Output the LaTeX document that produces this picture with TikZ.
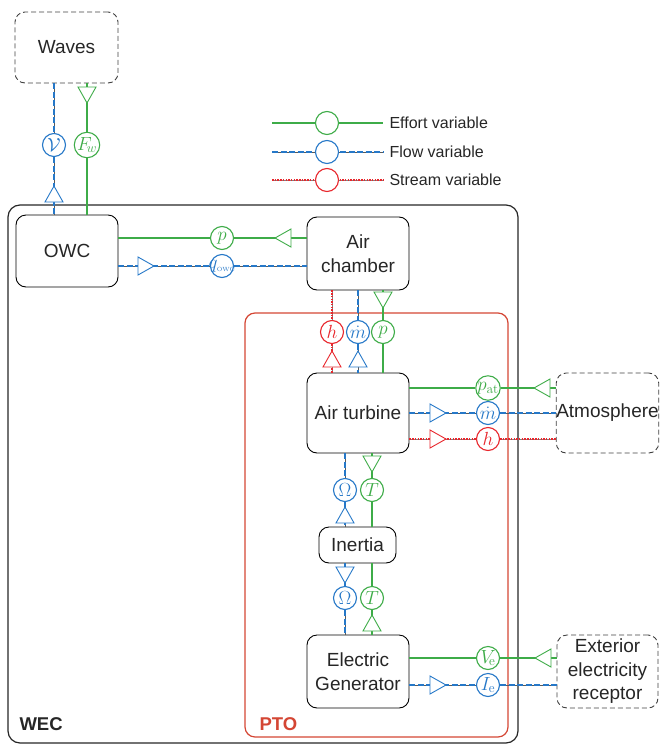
\RequirePackage{fix-cm}
\documentclass[tikz,border=0pt]{standalone}
\usepackage[no-math]{fontspec}
\setmainfont{Liberation Sans}
\usetikzlibrary{calc}

\definecolor{effortc}{RGB}{62,172,72}
\definecolor{flowc}{RGB}{38,120,200}
\definecolor{streamc}{RGB}{232,38,44}
\definecolor{ptored}{RGB}{212,70,52}

\tikzset{
	box/.style={draw, rounded corners=10pt, line width=0.9pt, align=center, inner sep=0pt, text=black!85, font=\fontsize{19}{23.5}\selectfont},
	outer/.style={box, dash pattern=on 5pt off 3pt, draw=black!75},
	var/.style={circle, fill=white, line width=1.1pt, minimum size=23pt, inner sep=0pt, font=\fontsize{19}{19}\selectfont},
	evar/.style={var, draw=effortc, text=effortc},
	fvar/.style={var, draw=flowc, text=flowc},
	svar/.style={var, draw=streamc, text=streamc},
	effort/.style={draw=effortc, line width=1.5pt},
	flowl/.style={draw=flowc, line width=1.5pt, dash pattern=on 6pt off 2.5pt, preaction={draw=black!65, line width=0.9pt, solid}},
	streaml/.style={draw=streamc, line width=1.5pt, dash pattern=on 1.5pt off 1.2pt, preaction={draw=black!50, line width=1pt, solid}},
	causal/.pic={\draw[fill=white, line width=0.9pt, line join=miter] (8,0) -- (-8,9) -- (-8,-9) -- cycle;},
}
\newcommand{\tinysub}[1]{\mbox{\fontsize{6}{6}\selectfont$\mathrm{#1}$}}

\begin{document}
\begin{tikzpicture}[x=1pt, y=-1pt]
	\useasboundingbox (0,0) rectangle (659,744);

	%frames
	\draw[rounded corners=12pt, line width=1.2pt, black!85] (8,205) rectangle (518,743);
	\draw[rounded corners=10pt, line width=1.2pt, ptored] (245,313) rectangle (508,737);
	\node[anchor=base west, text=black!85, font=\bfseries\fontsize{18.5}{20}\selectfont] (weclbl) at (16,730) {WEC};
	\node[anchor=base west, text=ptored, font=\bfseries\fontsize{18.5}{20}\selectfont] (ptolbl) at (256,730) {PTO};

	%blocks
	\node[outer, minimum width=103pt, minimum height=71pt] (waves) at (66.5,47.5) {Waves};
	\node[box, minimum width=102pt, minimum height=72pt] (owc) at (67,251) {OWC};
	\node[box, minimum width=102pt, minimum height=73pt] (chamber) at (358,253.5) {Air\\chamber};
	\node[box, minimum width=102pt, minimum height=80pt] (turbine) at (358,413) {Air turbine};
	\node[box, minimum width=77pt, minimum height=36pt] (inertia) at (357.5,545) {Inertia};
	\node[box, minimum width=102pt, minimum height=73pt] (generator) at (358,671.5) {Electric\\Generator};
	\node[outer, minimum width=101pt, minimum height=80pt] (atmos) at (607.5,413) {Atmosphere};
	\node[outer, minimum width=101pt, minimum height=73pt] (receptor) at (607.5,671.5) {Exterior\\electricity\\receptor};

	%legend
	\foreach \y/\sty/\var/\txt in {123/effort/evar/Effort variable, 152/flowl/fvar/Flow variable, 180/streaml/svar/Stream variable}{
		\draw[\sty] (272,\y) -- (383,\y);
		\node[\var] (leg\y) at (327,\y) {};
		\node[anchor=west, text=black!85, font=\fontsize{16}{18}\selectfont] (legtxt\y) at (386,\y) {\txt};
	}

	%variables
	\node[fvar] (vw) at (54,145) {$\mathcal{V}$};
	\node[evar] (fw) at (87,145) {$F_{\!w}$};
	\node[evar] (pc) at (222,238) {$p$};
	\node[fvar] (qo) at (222,266) {\makebox[12pt]{$q_{\tinysub{OWC}}$}};
	\node[svar] (hc) at (332,332) {$h$};
	\node[fvar] (mc) at (358,332) {$\dot m$};
	\node[evar] (pt) at (383,332) {$p$};
	\node[evar] (pat) at (488,388) {$p_{\mathrm{at}}$};
	\node[fvar] (ma) at (488,413) {$\dot m$};
	\node[svar] (ha) at (488,439) {$h$};
	\node[fvar] (om1) at (345,490) {$\Omega$};
	\node[evar] (tq1) at (372,490) {$T$};
	\node[fvar] (om2) at (345,598) {$\Omega$};
	\node[evar] (tq2) at (372,598) {$T$};
	\node[evar] (ve) at (488,658) {$V_{\!\mathrm{e}}$};
	\node[fvar] (ie) at (488,685) {$I_{\mathrm{e}}$};

	%connections
	\draw[flowl] (waves.south -| vw) -- (vw) -- (owc.north -| vw);
	\draw[effort] (waves.south -| fw) -- (fw) -- (owc.north -| fw);
	\draw[effort] (owc.east |- pc) -- (pc) -- (chamber.west |- pc);
	\draw[flowl] (owc.east |- qo) -- (qo) -- (chamber.west |- qo);
	\draw[streaml] (chamber.south -| hc) -- (hc) -- (turbine.north -| hc);
	\draw[flowl] (chamber.south -| mc) -- (mc) -- (turbine.north -| mc);
	\draw[effort] (chamber.south -| pt) -- (pt) -- (turbine.north -| pt);
	\draw[effort] (turbine.east |- pat) -- (pat) -- (atmos.west |- pat);
	\draw[flowl] (turbine.east |- ma) -- (ma) -- (atmos.west |- ma);
	\draw[streaml] (turbine.east |- ha) -- (ha) -- (atmos.west |- ha);
	\draw[flowl] (turbine.south -| om1) -- (om1) -- (inertia.north -| om1);
	\draw[effort] (turbine.south -| tq1) -- (tq1) -- (inertia.north -| tq1);
	\draw[flowl] (inertia.south -| om2) -- (om2) -- (generator.north -| om2);
	\draw[effort] (inertia.south -| tq2) -- (tq2) -- (generator.north -| tq2);
	\draw[effort] (generator.east |- ve) -- (ve) -- (receptor.west |- ve);
	\draw[flowl] (generator.east |- ie) -- (ie) -- (receptor.west |- ie);

	%causality strokes
	\pic[color=flowc, rotate=90] at (54,194) {causal};
	\pic[color=effortc, rotate=-90] at (87,95) {causal};
	\pic[color=effortc, rotate=180] at (283,238) {causal};
	\pic[color=flowc] at (146,266) {causal};
	\pic[color=streamc, rotate=90] at (332,359) {causal};
	\pic[color=flowc, rotate=90] at (358,359) {causal};
	\pic[color=effortc, rotate=-90] at (383,300) {causal};
	\pic[color=effortc, rotate=180] at (542,388) {causal};
	\pic[color=flowc] at (438,413) {causal};
	\pic[color=streamc] at (438,439) {causal};
	\pic[color=flowc, rotate=90] at (345,515) {causal};
	\pic[color=effortc, rotate=-90] at (372,464) {causal};
	\pic[color=flowc, rotate=-90] at (345,575) {causal};
	\pic[color=effortc, rotate=90] at (372,623) {causal};
	\pic[color=effortc, rotate=180] at (543,658) {causal};
	\pic[color=flowc] at (438,685) {causal};

\end{tikzpicture}
\end{document}
